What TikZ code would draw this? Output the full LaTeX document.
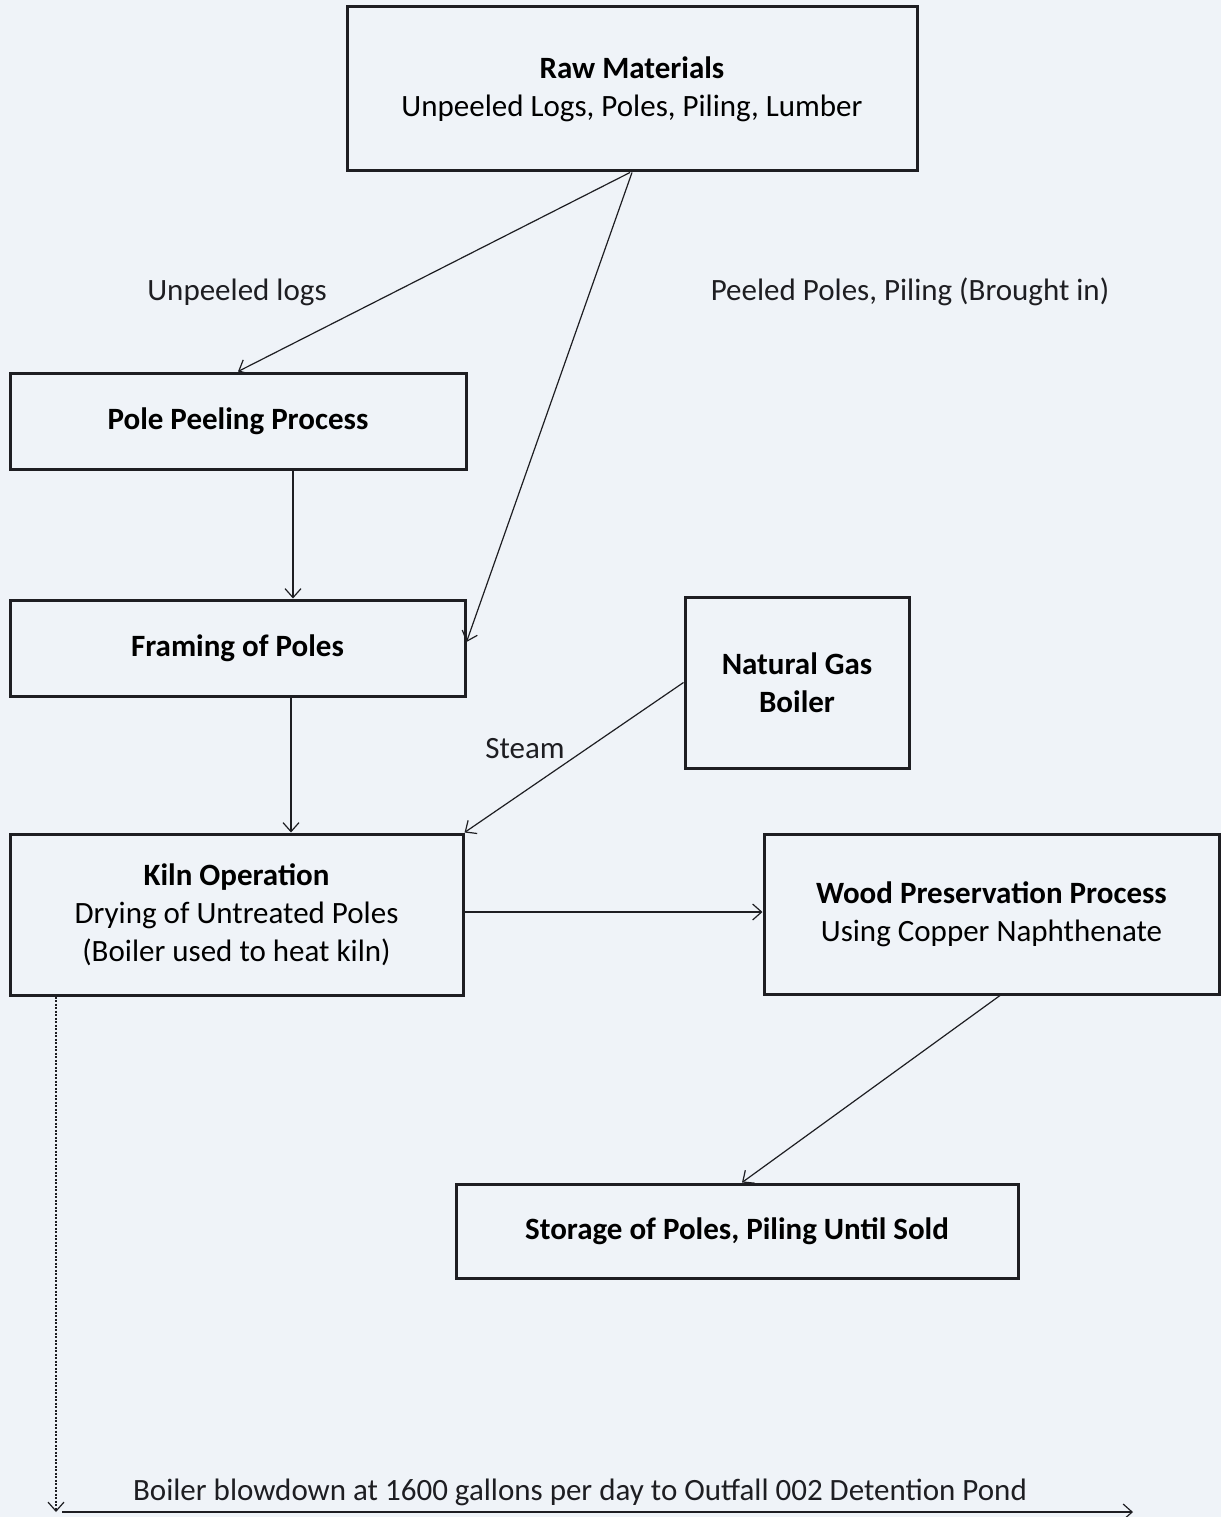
\documentclass[tikz,border=0pt]{standalone}
\usepackage{fontspec}
\setmainfont{Carlito}
\usepackage{tikz}
\usetikzlibrary{arrows,arrows.meta,shapes,positioning}
\definecolor{paper}{RGB}{239,243,248}
\definecolor{ink}{RGB}{30,30,34}
\begin{document}
\begin{tikzpicture}[x=1pt,y=-1pt,>={Straight Barb[length=9pt,width=16pt]},
    procbox/.style={draw=ink,line width=3pt,align=center,inner sep=0pt,
      font=\fontsize{31}{38}\selectfont},
    flow/.style={->,draw=ink,line width=1.2pt},
    lbl/.style={inner sep=0pt,font=\fontsize{31}{38}\selectfont,text=ink}]
  \fill [paper] (0,0) rectangle (1221,1517);
  \useasboundingbox (0,0) rectangle (1221,1517);
  % boxes
  \node [procbox,minimum width=570,minimum height=164] (raw) at (632,89)
    {\textbf{Raw Materials}\\Unpeeled Logs, Poles, Piling, Lumber};
  \node [procbox,minimum width=456,minimum height=96] (peel) at (238,421)
    {\textbf{Pole Peeling Process}};
  \node [procbox,minimum width=455,minimum height=96] (frame) at (237.5,648)
    {\textbf{Framing of Poles}};
  \node [procbox,minimum width=224,minimum height=171] (boiler) at (797,682.5)
    {\textbf{Natural Gas}\\\textbf{Boiler}};
  \node [procbox,minimum width=453,minimum height=161] (kiln) at (236.5,914.5)
    {\textbf{Kiln Operation}\\Drying of Untreated Poles\\(Boiler used to heat kiln)};
  \node [procbox,minimum width=455,minimum height=160] (wood) at (991.5,914)
    {\textbf{Wood Preservation Process}\\Using Copper Naphthenate};
  \node [procbox,minimum width=562,minimum height=94] (store) at (737,1231)
    {\textbf{Storage of Poles, Piling Until Sold}};
  % labels
  \node [lbl] (unpeeled) at (237,292) {Unpeeled logs};
  \node [lbl] (peeled) at (910,292) {Peeled Poles, Piling (Brought in)};
  \node [lbl] (steam) at (525,749) {Steam};
  \node [lbl] (blowlbl) at (580,1492)
    {Boiler blowdown at 1600 gallons per day to Outfall 002 Detention Pond};
  \coordinate (blowend) at (56,1512);
  \coordinate (pondstart) at (62,1512);
  \coordinate (pondend) at (1133,1512);
  % connectors
  \draw [flow] ([xshift=-2pt]raw.south) -- (peel.north);
  \draw [flow] (raw.south) -- ([yshift=6pt]frame.east);
  \draw [flow] ([xshift=55pt]peel.south) -- ([xshift=55pt]peel.south |- frame.north);
  \draw [flow] ([xshift=53.5pt]frame.south) -- ([xshift=53.5pt]frame.south |- kiln.north);
  \draw [flow] (boiler.west) -- (kiln.north east);
  \draw [flow] ([yshift=2.5pt]kiln.east) -- ([yshift=2.5pt]kiln.east -| wood.west);
  \draw [flow] ([xshift=8.5pt]wood.south) -- ([xshift=5pt]store.north);
  \draw [flow,dash pattern=on 2pt off 1.5pt] ([xshift=-180.5pt]kiln.south) -- (blowend);
  \draw [flow] (pondstart) -- (pondend);
\end{tikzpicture}
\end{document}
